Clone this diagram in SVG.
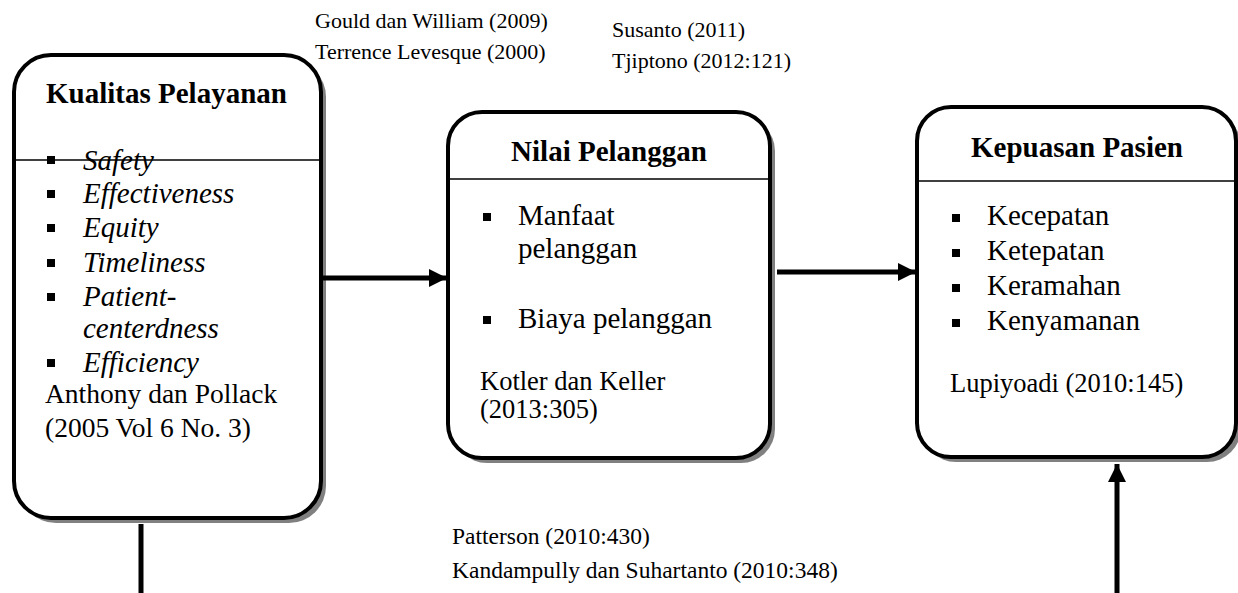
<svg xmlns="http://www.w3.org/2000/svg" width="1238" height="593" viewBox="0 0 1238 593">
<style>
text{font-family:"Liberation Serif","Times New Roman",serif;fill:#000}
.t{font-size:29px;font-weight:bold}
.b{font-size:29px}
.a{font-size:27.5px}
.i{font-size:29px;font-style:italic}
.c{font-size:26.5px}
.o{font-size:22px}
.p{font-size:23.5px}
.shadow{fill:#808080;stroke:none}
.box{fill:#fff;stroke:#000;stroke-width:4}
.div{stroke:#000;stroke-width:1.5}
.conn{stroke:#000;stroke-width:5;fill:none}
</style>
<defs>
<marker id="ah" viewBox="0 0 10 10" refX="10" refY="5" markerWidth="3.6" markerHeight="3.6" orient="auto" markerUnits="strokeWidth">
<path d="M0,0 L10,5 L0,10 z" fill="#000"/>
</marker>
</defs>
<g id="citations">
<text class="o" x="315" y="28">Gould dan William (2009)</text>
<text class="o" x="315" y="59">Terrence Levesque (2000)</text>
<text class="o" x="612" y="37">Susanto (2011)</text>
<text class="o" x="612" y="68">Tjiptono (2012:121)</text>
<text class="p" x="452" y="544">Patterson (2010:430)</text>
<text class="p" x="452" y="578">Kandampully dan Suhartanto (2010:348)</text>
</g>
<g id="node-kualitas">
<rect class="shadow" x="19" y="60" width="307" height="463" rx="37"/>
<rect class="box" x="14" y="55" width="307" height="463" rx="37"/>
<line class="div" x1="14" y1="160" x2="321" y2="160"/>
<text class="t" x="46" y="103">Kualitas Pelayanan</text>
<rect x="47" y="156" width="8" height="8"/>
<text class="i" x="83" y="170">Safety</text>
<rect x="47" y="190" width="8" height="8"/>
<text class="i" x="83" y="203">Effectiveness</text>
<rect x="47" y="224" width="8" height="8"/>
<text class="i" x="83" y="237">Equity</text>
<rect x="47" y="259" width="8" height="8"/>
<text class="i" x="83" y="272">Timeliness</text>
<rect x="47" y="293" width="8" height="8"/>
<text class="i" x="83" y="306">Patient-</text>
<text class="i" x="83" y="338">centerdness</text>
<rect x="47" y="359" width="8" height="8"/>
<text class="i" x="83" y="372">Efficiency</text>
<text class="a" x="45" y="403">Anthony dan Pollack</text>
<text class="a" x="45" y="437">(2005 Vol 6 No. 3)</text>
</g>
<g id="node-nilai">
<rect class="shadow" x="453" y="117" width="322" height="346" rx="34"/>
<rect class="box" x="448" y="112" width="322" height="346" rx="34"/>
<line class="div" x1="448" y1="179" x2="770" y2="179"/>
<text class="t" x="609" y="161" text-anchor="middle">Nilai Pelanggan</text>
<rect x="483" y="213" width="8" height="8"/>
<text class="b" x="518" y="225">Manfaat</text>
<text class="b" x="518" y="258">pelanggan</text>
<rect x="483" y="316" width="8" height="8"/>
<text class="b" x="518" y="328">Biaya pelanggan</text>
<text class="c" x="480" y="390">Kotler dan Keller</text>
<text class="c" x="480" y="418">(2013:305)</text>
</g>
<g id="node-kepuasan">
<rect class="shadow" x="922" y="112" width="319" height="350" rx="34"/>
<rect class="box" x="917" y="107" width="319" height="350" rx="34"/>
<line class="div" x1="917" y1="181" x2="1236" y2="181"/>
<text class="t" x="1077" y="157" text-anchor="middle">Kepuasan Pasien</text>
<rect x="952" y="214" width="8" height="8"/>
<text class="b" x="987" y="225">Kecepatan</text>
<rect x="952" y="249" width="8" height="8"/>
<text class="b" x="987" y="260">Ketepatan</text>
<rect x="952" y="284" width="8" height="8"/>
<text class="b" x="987" y="295">Keramahan</text>
<rect x="952" y="319" width="8" height="8"/>
<text class="b" x="987" y="330">Kenyamanan</text>
<text class="c" x="950" y="392">Lupiyoadi (2010:145)</text>
</g>
<g id="connectors">
<line class="conn" x1="323" y1="278" x2="447" y2="278" marker-end="url(#ah)"/>
<line class="conn" x1="777" y1="272" x2="916" y2="272" marker-end="url(#ah)"/>
<line class="conn" x1="1117" y1="593" x2="1117" y2="464" marker-end="url(#ah)"/>
<line class="conn" x1="141" y1="524" x2="141" y2="593"/>
</g>
</svg>
